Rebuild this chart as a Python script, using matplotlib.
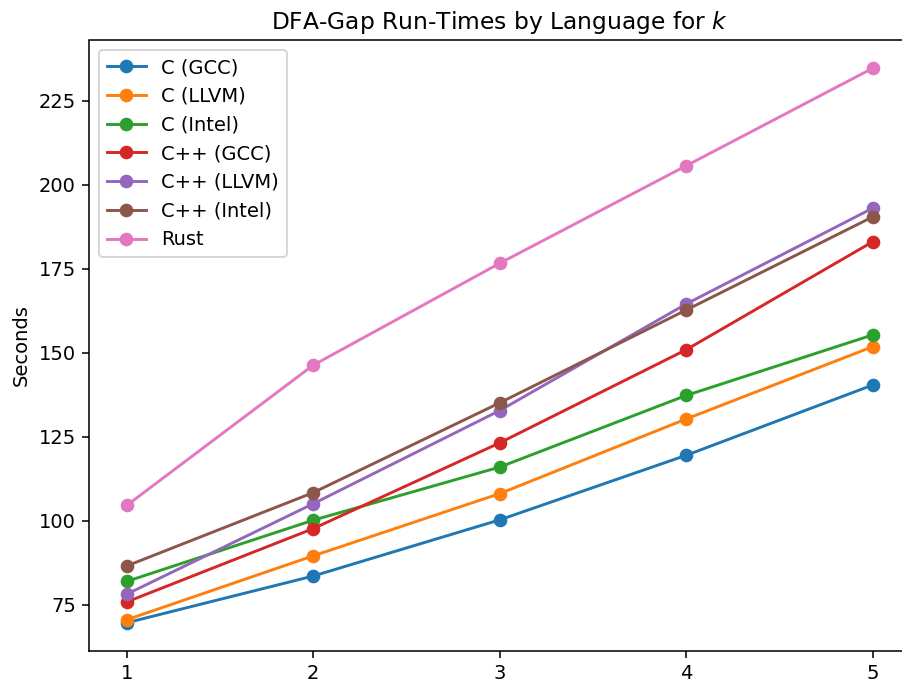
import matplotlib
matplotlib.use("Agg")
import matplotlib.pyplot as plt

# k values and run-times (seconds) per language/compiler
k_values = [1, 2, 3, 4, 5]

c_gcc = [69.7, 83.6, 100.3, 119.5, 140.4]
c_llvm = [70.6, 89.6, 108.1, 130.3, 151.8]
c_intel = [82.0, 100.2, 116.0, 137.3, 155.3]
cpp_gcc = [75.9, 97.7, 123.2, 150.9, 183.0]
cpp_llvm = [78.2, 105.1, 132.8, 164.5, 193.0]
cpp_intel = [86.6, 108.4, 135.1, 162.7, 190.4]
rust = [104.6, 146.3, 176.6, 205.6, 234.6]

labels = ["C (GCC)", "C (LLVM)", "C (Intel)", "C++ (GCC)",
          "C++ (LLVM)", "C++ (Intel)", "Rust"]
series = [c_gcc, c_llvm, c_intel, cpp_gcc, cpp_llvm, cpp_intel, rust]

DPI = 140
W, H = 902, 683

fig = plt.figure(figsize=(W / DPI, H / DPI), dpi=DPI)
# axes box in pixels (right edge runs past the image, like the reference)
left, right, top, bottom = 89.4, 910.0, 40.5, 650.5
ax = fig.add_axes([left / W, (H - bottom) / H, (right - left) / W, (bottom - top) / H])

for vals, lab in zip(series, labels):
    ax.plot(k_values, vals, marker='o', label=lab)

ax.set_xticks(k_values)
ax.set_ylabel("Seconds")
ax.set_title("DFA-Gap Run-Times by Language for $k$")
ax.legend(loc='upper left')
# right edge of the frame falls outside the picture
ax.spines['right'].set_visible(False)

fig.savefig("out.png", dpi=DPI)
